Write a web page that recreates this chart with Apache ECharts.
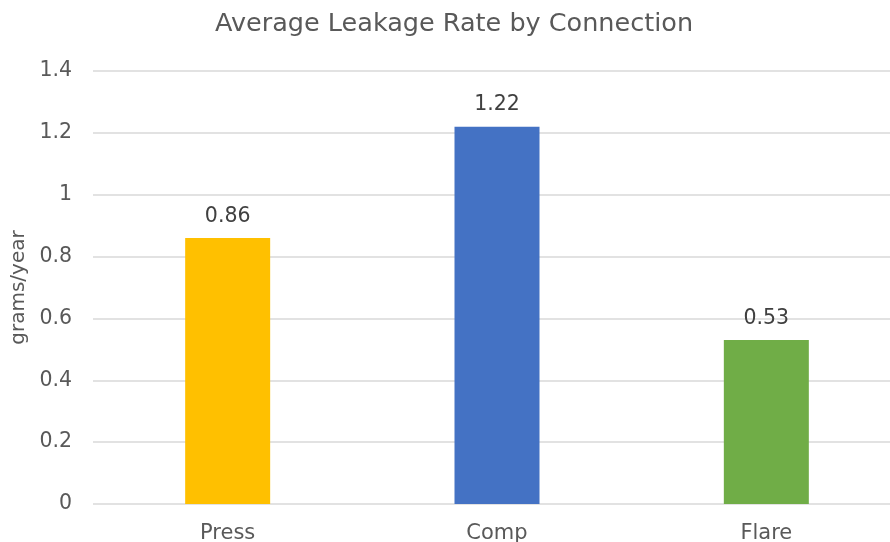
<!DOCTYPE html>
<html><head><meta charset="utf-8">
<script src="https://cdn.jsdelivr.net/npm/echarts@6/dist/echarts.min.js"></script>
<style>html,body{margin:0;padding:0;background:#fff}#c{width:890px;height:542px}</style>
</head><body><div id="c"></div>
<script>
const categories = ['Press', 'Comp', 'Flare'];
const values = [0.86, 1.22, 0.53];
const barColors = ['#FFC000', '#4472C4', '#70AD47'];
const yTicks = { min: 0, max: 1.4, interval: 0.2 };

const chart = echarts.init(document.getElementById('c'));
const font = 'DejaVu Sans, Verdana, sans-serif';
chart.setOption({
  animation: false,
  title: { text: 'Average Leakage Rate by Connection', left: 210, top: 6,
    textStyle: { fontFamily: font, fontSize: 25.5, fontWeight: 'normal', color: '#595959' } },
  grid: { left: 93, width: 808, top: 71, bottom: 38, containLabel: false, outerBoundsMode: 'none' },
  xAxis: { type: 'category', data: categories,
    axisLine: { show: false }, axisTick: { show: false },
    axisLabel: { fontFamily: font, fontSize: 21, color: '#595959', margin: 19 } },
  yAxis: { type: 'value', min: yTicks.min, max: yTicks.max, interval: yTicks.interval,
    name: 'grams/year', nameLocation: 'middle', nameGap: 57, nameRotate: 90,
    nameTextStyle: { fontFamily: font, fontSize: 20, color: '#595959' },
    axisLabel: { fontFamily: font, fontSize: 20.5, color: '#595959', margin: 21,
      formatter: v => String(Math.round(v * 10) / 10) },
    splitLine: { lineStyle: { color: '#D9D9D9', width: 1.5 } } },
  series: [{ type: 'bar', barWidth: 85,
    data: values.map((v, i) => ({ value: v, itemStyle: { color: barColors[i] } })),
    label: { show: true, position: 'top', distance: 11, fontFamily: font, fontSize: 20.5, color: '#404040' } }]
});
</script></body></html>
